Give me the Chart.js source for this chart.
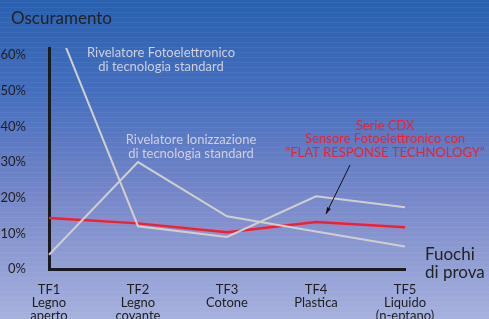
<!DOCTYPE html>
<html><head><meta charset="utf-8">
<script src="https://cdn.jsdelivr.net/npm/chart.js@4/dist/chart.umd.min.js"></script>
<style>html,body{margin:0;padding:0;background:#6f87c6;}#wrap{width:489px;height:319px;position:relative;}</style>
</head><body><div id="wrap"><canvas id="c" width="489" height="319"></canvas></div>
<script>
const categories = [["TF1","Legno","aperto"],["TF2","Legno","covante"],["TF3","Cotone"],["TF4","Plastica"],["TF5","Liquido","(n-eptano)"]];
const photoStandard = [74, 12, 9, 20.4, 17.3];
const ionStandard = [4, 30, 14.8, 10.5, 6.3];
const cdxFlat = [14.3, 12.8, 10.3, 13.2, 11.7];
const yTicks = [0, 10, 20, 30, 40, 50, 60];
const FONT = "Lato, 'Open Sans', sans-serif";

const bgPlugin = {
  id: 'bg',
  beforeDraw(chart) {
    const ctx = chart.ctx, w = chart.width, h = chart.height;
    const g = ctx.createLinearGradient(0, 0, 0, h);
    g.addColorStop(0, '#2960b0');
    g.addColorStop(0.3, '#466fbe');
    g.addColorStop(0.6, '#7486c8');
    g.addColorStop(1, '#a7b1dd');
    ctx.save();
    ctx.fillStyle = g;
    ctx.fillRect(0, 0, w, h);
    ctx.fillStyle = 'rgba(255,255,255,0.05)';
    for (let y = 2; y < h; y += 5) ctx.fillRect(0, y, w, 1);
    ctx.restore();
  }
};

const textPlugin = {
  id: 'texts',
  afterDraw(chart) {
    const ctx = chart.ctx;
    ctx.save();
    ctx.textBaseline = 'middle';
    ctx.textAlign = 'left';
    ctx.fillStyle = '#222';
    ctx.font = '17px ' + FONT;
    ctx.fillText('Oscuramento', 11, 19);
    ctx.fillText('Fuochi', 425, 255);
    ctx.fillText('di prova', 425, 273);
    ctx.textAlign = 'center';
    ctx.font = '13px ' + FONT;
    ctx.fillStyle = '#ccd0e0';
    ctx.fillText('Rivelatore Fotoelettronico', 161, 53);
    ctx.fillText('di tecnologia standard', 161, 67);
    ctx.fillText('Rivelatore Ionizzazione', 191, 140);
    ctx.fillText('di tecnologia standard', 191, 154);
    ctx.fillStyle = '#f0202e';
    ctx.fillText('Serie CDX', 385, 126);
    ctx.fillText('Sensore Fotoelettronico con', 385, 139);
    ctx.fillText('\u201CFLAT RESPONSE TECHNOLOGY\u201D', 385, 153);
    const x1 = 350, y1 = 165, x2 = 326, y2 = 214;
    ctx.strokeStyle = '#111';
    ctx.fillStyle = '#111';
    ctx.lineWidth = 1;
    ctx.beginPath(); ctx.moveTo(x1, y1); ctx.lineTo(x2, y2); ctx.stroke();
    const a = Math.atan2(y2 - y1, x2 - x1);
    ctx.beginPath();
    ctx.moveTo(x2, y2);
    ctx.lineTo(x2 - 7 * Math.cos(a - 0.3), y2 - 7 * Math.sin(a - 0.3));
    ctx.lineTo(x2 - 7 * Math.cos(a + 0.3), y2 - 7 * Math.sin(a + 0.3));
    ctx.closePath(); ctx.fill();
    ctx.restore();
  }
};

new Chart(document.getElementById('c'), {
  type: 'line',
  data: {
    labels: categories,
    datasets: [
      { label: 'Rivelatore Fotoelettronico', data: photoStandard, borderColor: '#cfcfcf', borderWidth: 2, pointRadius: 0, tension: 0 },
      { label: 'Rivelatore Ionizzazione', data: ionStandard, borderColor: '#cfcfcf', borderWidth: 2, pointRadius: 0, tension: 0 },
      { label: 'Serie CDX', data: cdxFlat, borderColor: '#ff1a2a', borderWidth: 2.5, pointRadius: 0, tension: 0 }
    ]
  },
  options: {
    responsive: false,
    animation: false,
    devicePixelRatio: 1,
    layout: { padding: { top: 48, right: 84, left: 0, bottom: 0 } },
    plugins: { legend: { display: false }, tooltip: { enabled: false } },
    scales: {
      x: {
        offset: false,
        grid: { display: false },
        border: { display: true, color: '#1a1a1a', width: 3 },
        ticks: { color: '#1e1e1e', font: { family: FONT, size: 13, lineHeight: 1.0 }, padding: 6, maxRotation: 0, autoSkip: false },
        afterFit(s) { s.height = 50; }
      },
      y: {
        min: 0, max: 62,
        grid: { display: false },
        border: { display: true, color: '#1a1a1a', width: 3 },
        afterBuildTicks(s) { s.ticks = yTicks.map(v => ({ value: v })); },
        ticks: { color: '#1e1e1e', font: { family: FONT, size: 13 }, padding: 15, callback: v => v + '%' },
        afterFit(s) { s.width = 49; }
      }
    }
  },
  plugins: [bgPlugin, textPlugin]
});
</script></body></html>
